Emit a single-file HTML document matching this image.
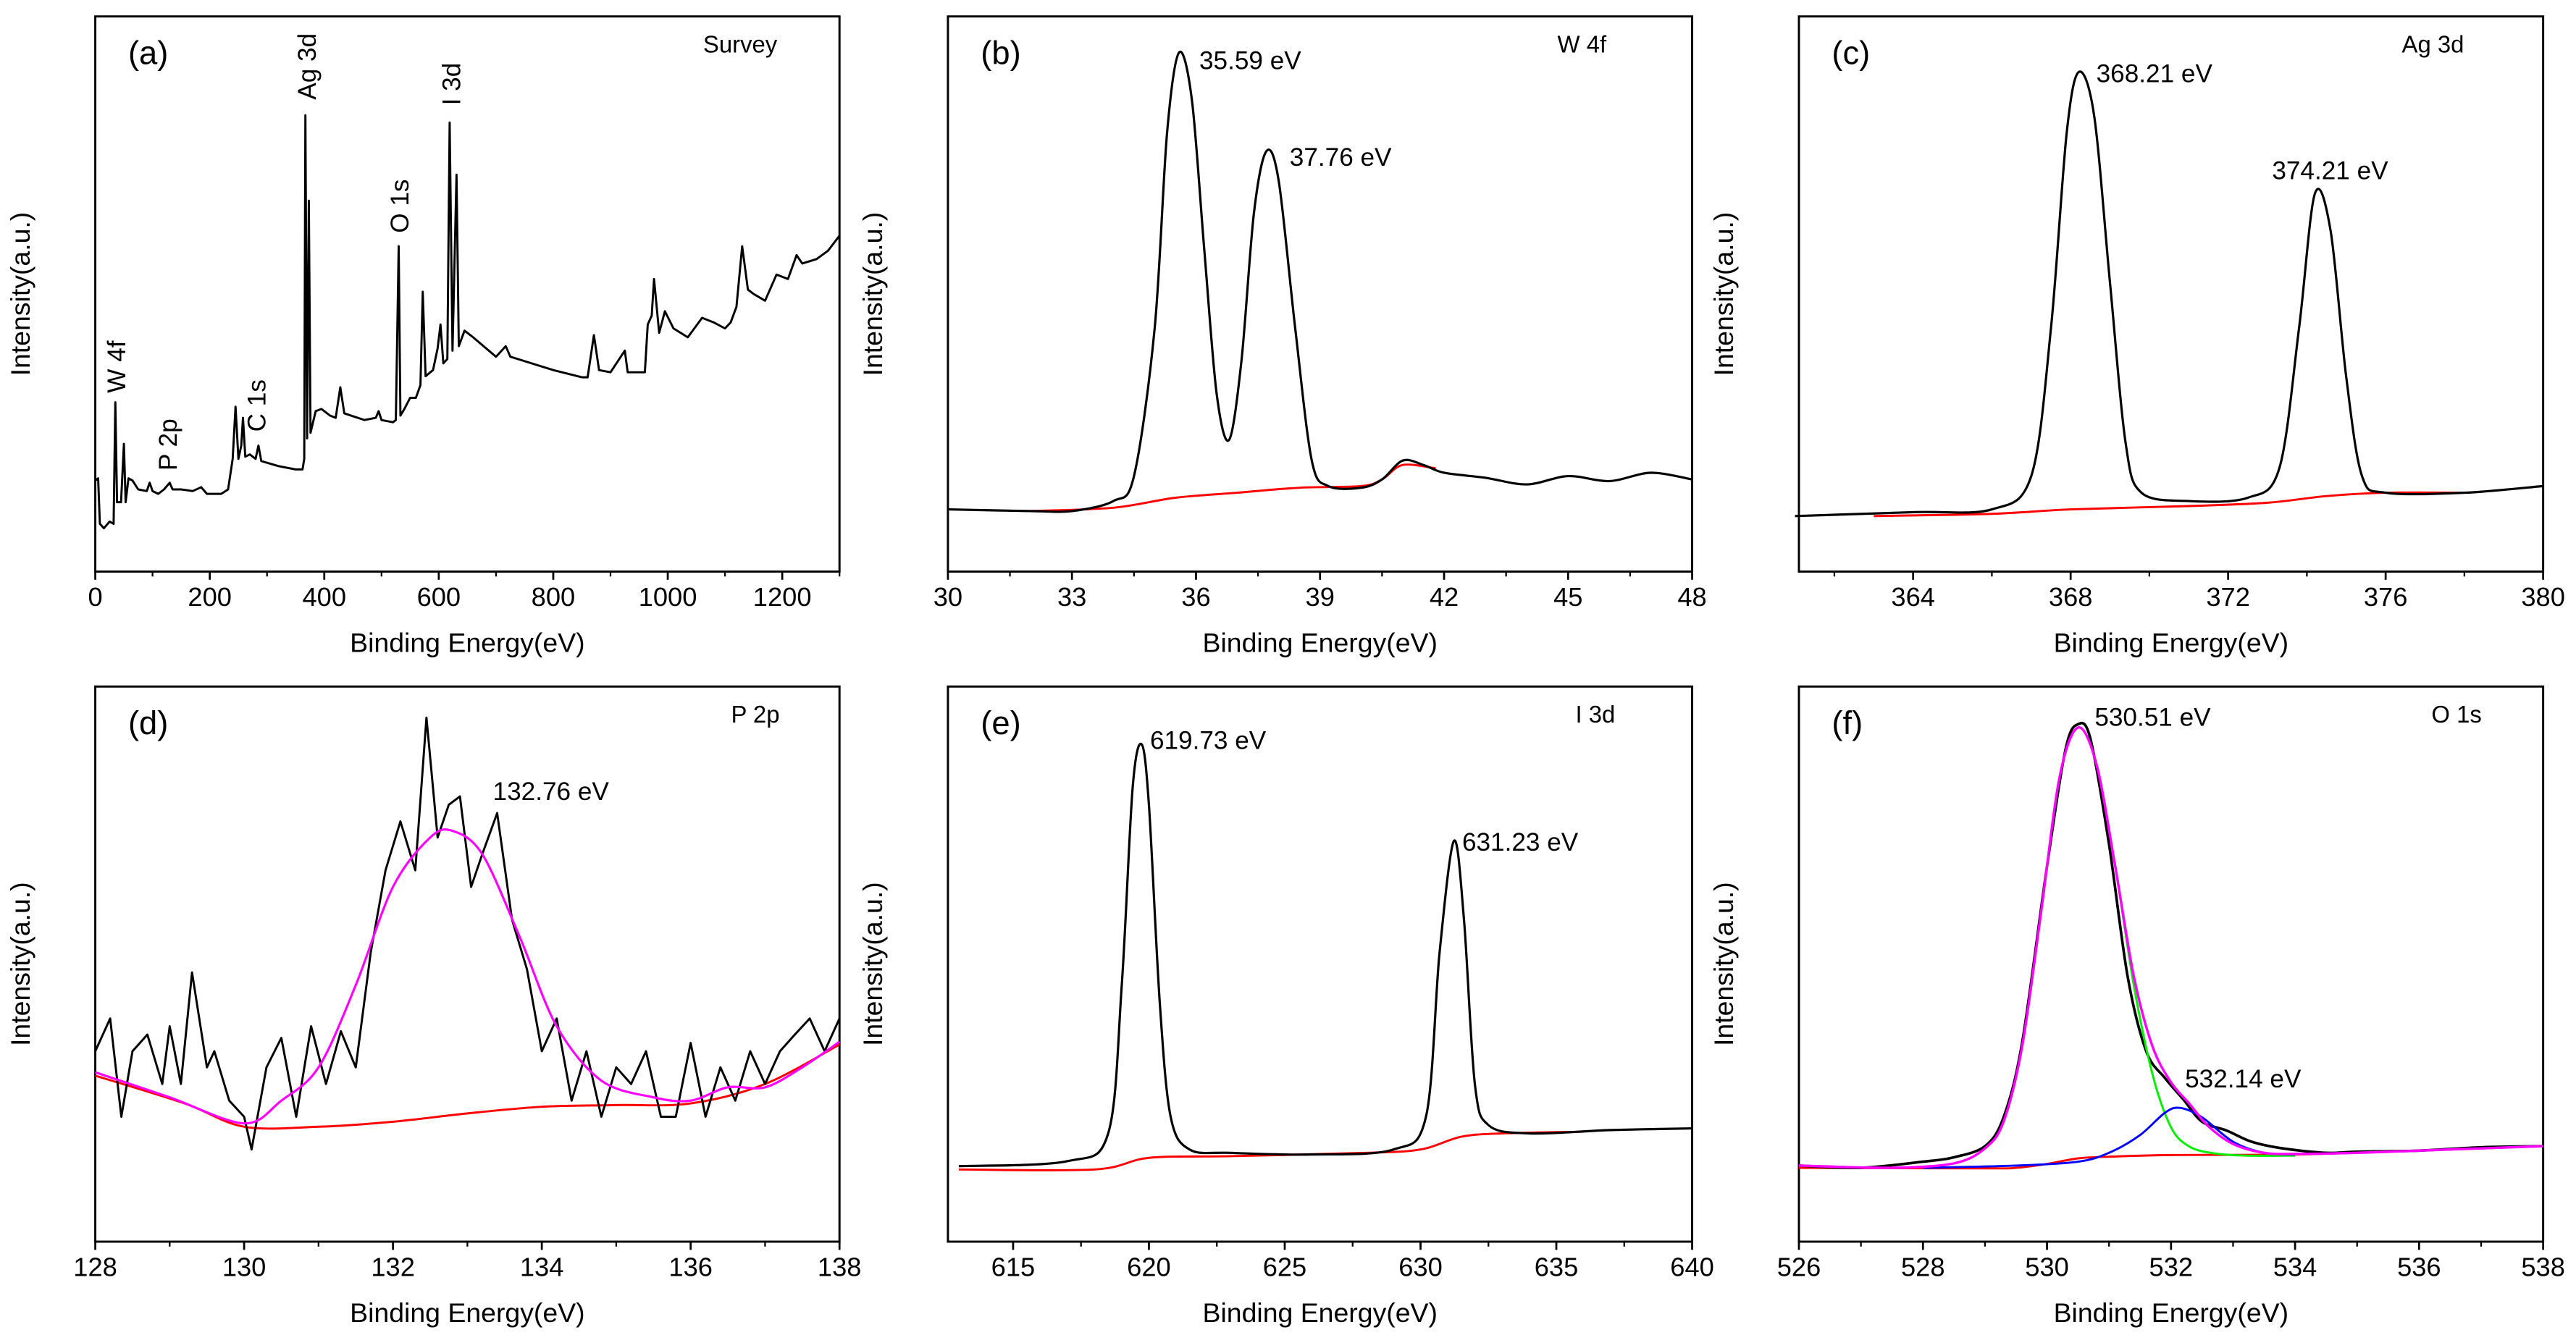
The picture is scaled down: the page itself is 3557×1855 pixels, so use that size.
<!DOCTYPE html>
<html><head><meta charset="utf-8"><style>
html,body{margin:0;padding:0;background:#fff}
svg{display:block}
text{font-family:"Liberation Sans",Arial,sans-serif;fill:#000}
</style></head><body>
<svg id="fig" width="3557" height="1855" viewBox="0 0 1568 817.7" xmlns="http://www.w3.org/2000/svg"></svg>
<script>
// ---- data (energy eV, intensity a.u. 0-100) ----
const aE=[0,5,8,15,25,32,35,38,45,50,53,58,65,75,90,95,100,110,120,130,135,150,170,185,195,220,232,240,245,250,255,258,262,270,280,285,290,320,350,362,365,367,370,373,376,385,395,410,420,428,435,470,490,495,500,520,525,530,533,540,550,560,568,572,577,590,598,603,608,615,619,624,631,635,645,660,700,717,725,750,800,850,860,871,880,900,925,930,960,965,972,976,985,995,1010,1035,1060,1080,1100,1110,1120,1130,1140,1150,1170,1190,1210,1225,1235,1260,1280,1300];
const aI=[16.4,16.8,8.6,7.8,9,8.6,30.5,12.5,12.5,23,12.5,16.8,16.4,14.8,14.5,16,14.5,14,14.8,16,14.8,14.8,14.5,15.2,14,14,14.8,20.3,29.7,20.3,22.7,27.7,20.7,21.1,20.3,22.7,19.9,19,18.4,18.4,20.3,82.2,24,66.8,25,28.9,29.3,28.1,27.7,33.2,28.5,27.3,27.7,28.9,27.3,26.9,27.3,58.6,28.1,29.3,31.3,31.3,33.6,50.4,35.2,36.3,40.2,44.5,37.5,38.3,80.9,39.8,71.5,40.6,43.4,42.2,38.7,40.6,38.7,37.9,36.3,35,35,42.6,36.3,35.9,39.8,35.9,35.9,44.5,46.1,52.7,43,46.9,43.8,42.2,45.7,44.9,43.8,44.9,47.7,58.6,50.8,50,48.8,53.5,52.7,57,55.5,56.3,57.8,60.5];

const bE=[30,32,33,34,34.5,35,35.3,35.59,35.9,36.2,36.5,36.8,37.1,37.4,37.7,38,38.4,38.8,39.2,40,40.5,41,41.5,42,43,44,45,46,47,48];
const bI=[11.2,10.9,10.9,12.7,17.2,43.8,79,93.5,85,58,32,23.7,38,64.5,75.7,70.4,43.8,20,15.4,15.1,16.6,20,19.2,17.8,16.9,15.7,17.2,16.3,17.8,16.6];
const bBgE=[32,34,35.5,37,38.5,40,40.5,41,41.8];
const bBgI=[10.9,11.5,13.3,14.2,15.1,15.4,16.6,19.2,18.6];

const cE=[361,364,366,367,367.5,367.9,368.21,368.6,369,369.4,369.8,371,372.5,373.3,373.8,374.2,374.6,375,375.4,376,378,380];
const cI=[10,10.7,11.2,17.2,43.8,79,90,82,52,23,14.2,12.7,13.3,18.6,43.8,68,61.5,35,17.2,14.2,14.2,15.4];
const cBgE=[363,366,368,371,373,374.5,376,378];
const cBgI=[10,10.4,11.2,11.8,12.4,13.6,14.2,14.2];

const dE=[128,128.2,128.35,128.5,128.7,128.9,129,129.15,129.3,129.5,129.6,129.8,130,130.1,130.3,130.5,130.7,130.9,131.1,131.3,131.5,131.7,131.9,132.1,132.3,132.45,132.6,132.75,132.9,133.05,133.2,133.4,133.6,133.8,134,134.2,134.4,134.6,134.8,135,135.2,135.4,135.6,135.8,136,136.2,136.4,136.6,136.8,137,137.2,137.4,137.6,137.8,138];
const dI=[34.3,40.2,22.5,34.3,37.3,28.4,38.8,28.4,48.5,31.4,34.3,25.4,22.5,16.6,31.4,36.7,22.5,38.8,28.4,37.9,31.4,52,66.9,75.7,66.9,94.4,72.8,78.7,80.2,63.9,69.8,77.2,58,49.1,34.3,40.2,25.4,34.3,22.5,31.4,28.4,34.3,22.5,22.5,35.8,22.5,31.4,25.4,34.3,28.4,34.3,37.3,40.2,34.3,40.2];
const dFitE=[128,129,130,130.5,131,131.5,132,132.5,132.8,133.2,133.7,134.2,134.8,135.5,136,136.5,137,137.5,138];
const dFitI=[30.5,26,21.3,25.4,31.4,46.2,63.9,72.8,74,69.8,55,38.8,29,26,25.4,27.8,27.8,31.4,36];
const dBgE=[128,129.2,130,131,132,133,134,135,136,137,138];
const dBgI=[29.9,24.9,20.7,20.7,21.6,23.1,24.3,24.6,24.9,28.4,35.5];

const eE=[613,617,618.5,619,619.4,619.73,620,620.4,620.8,621.5,623,626,629,630.2,630.7,631.23,631.6,632,632.5,634,637,640];
const eI=[13.6,14.5,19.5,46.2,81.7,89.6,78.7,43,22.5,16.6,16,15.7,16.6,22.5,52,72.2,58,28.4,21,19.5,20.1,20.4];
const eBgE=[613,618,620,623,628,630,631.5,633,636];
const eBgI=[13,13,15.1,15.4,16,16.6,18.9,19.5,19.8];

const fE=[526,527,528,528.5,529,529.3,529.6,530,530.3,530.5,530.7,531,531.3,531.6,531.9,532.2,532.5,532.9,533.3,533.8,534.5,535,536,537,538];
const fI=[13.7,13.3,14.4,15.2,17.2,22.4,35.9,67.6,88.7,93.2,90.6,71.6,47.8,34.3,29.5,25.6,21.6,20,18,16.8,16,16.2,16.4,17,17.2];
const fFitE=[526,527.5,528.5,529,529.3,529.6,529.9,530.2,530.5,530.8,531.1,531.4,531.7,532,532.3,532.6,533,533.5,534,535,536,537,538];
const fFitI=[13.7,13.3,14.1,16.8,21.6,35.2,58.9,83.5,92.6,85.9,67.6,47.8,35.2,28.7,24.8,20.8,17.6,16,15.8,16,16.4,16.8,17.2];
const fGreenE=[529.9,530.2,530.5,530.8,531.1,531.4,531.7,532,532.3,532.7,533.2,534];
const fGreenI=[58.9,83.5,92.6,85.9,67.6,46.2,30.2,20.6,17.1,15.9,15.5,15.5];
const fBlueE=[528,529.5,530.5,531,531.5,531.9,532.14,532.5,533,533.5,534];
const fBlueI=[13.3,13.7,14.4,16,19.2,23.2,24.1,22.4,18,16,15.7];
const fBgE=[526,529,529.5,530,530.5,531,532,534,536,538];
const fBgI=[13.3,13.2,13.3,14,15,15.3,15.6,15.7,16.4,17.2];

const NS='http://www.w3.org/2000/svg';
const svg=document.getElementById('fig');
function mk(tag,attrs,parent){const e=document.createElementNS(NS,tag);for(const k in attrs)e.setAttribute(k,attrs[k]);(parent||svg).appendChild(e);return e;}
function txt(x,y,s,size,parent,anchor,rot){const t=mk('text',{x:x,y:y,'font-size':size,'text-anchor':anchor||'start'},parent);if(rot)t.setAttribute('transform','rotate(-90 '+x+' '+y+')');t.textContent=s;return t;}

function panel(id,x0,y0,xmin,xmax,ticks,minorStep,letter,title,titleX){
  const W=453,H=338;
  const g=mk('g',{});
  
  
  const sx=v=>x0+(v-xmin)/(xmax-xmin)*W;
  const sy=v=>y0+H-v/100*H;
  const fr=mk('rect',{x:x0,y:y0,width:W,height:H,fill:'none',stroke:'#000','stroke-width':1.3},g);
  
  
  const first=Math.ceil(xmin/minorStep-1e-9)*minorStep;
  for(let v=first;v<=xmax+1e-9;v+=minorStep){
    const t=mk('line',{x1:sx(v),x2:sx(v),y1:y0+H,y2:y0+H+3,stroke:'#000','stroke-width':1},g);
    
    
  }
  ticks.forEach(v=>{
    const t=mk('line',{x1:sx(v),x2:sx(v),y1:y0+H,y2:y0+H+5,stroke:'#000','stroke-width':1.2},g);
    
    
    const l=txt(sx(v),y0+H+21,String(v),16,g,'middle');
    
    
  });
  const xt=txt(x0+W/2,y0+H+49,'Binding Energy(eV)',16.5,g,'middle');
  
  
  const yt=txt(x0-40,y0+H/2,'Intensity(a.u.)',16.5,g,'middle',true);
  
  
  const lt=txt(x0+20,y0+29,letter,20,g);
  
  
  const tt=txt(titleX,y0+22,title,14.5,g);
  
  
  return {g,sx,sy};
}
function line(p,E,I,color,name,w,smooth){
  const P=E.map((e,i)=>[p.sx(e),p.sy(I[i])]);
  let d='M'+P[0][0].toFixed(2)+' '+P[0][1].toFixed(2);
  for(let i=1;i<P.length;i++){
    if(smooth){
      const p0=P[Math.max(i-2,0)],p1=P[i-1],p2=P[i],p3=P[Math.min(i+1,P.length-1)];
      const t=0.16;
      const c1=[p1[0]+(p2[0]-p0[0])*t,p1[1]+(p2[1]-p0[1])*t];
      const c2=[p2[0]-(p3[0]-p1[0])*t,p2[1]-(p3[1]-p1[1])*t];
      d+=' C'+c1[0].toFixed(2)+' '+c1[1].toFixed(2)+' '+c2[0].toFixed(2)+' '+c2[1].toFixed(2)+' '+p2[0].toFixed(2)+' '+p2[1].toFixed(2);
    } else d+=' L'+P[i][0].toFixed(2)+' '+P[i][1].toFixed(2);
  }
  const path=mk('path',{d:d,fill:'none',stroke:color,'stroke-width':w||1.4,'stroke-linejoin':'round'},p.g);
  
  
}
function ann(p,x,y,s,name,rot){
  const t=txt(x,y,s,15.5,p.g,'start',rot);
  
  
}

const r1=10,r2=418;
const pa=panel('a',58,r1,0,1300,[0,200,400,600,800,1000,1200],100,'(a)','Survey',428);
line(pa,aE,aI,'#000','survey-spectrum',1.3,false);
ann(pa,pa.sx(35)+6,pa.sy(31)-4,'W 4f','label-w4f',true);
ann(pa,pa.sx(125)+6,pa.sy(17)-4,'P 2p','label-p2p',true);
ann(pa,pa.sx(280)+6,pa.sy(24)-4,'C 1s','label-c1s',true);
ann(pa,pa.sx(368)+6,pa.sy(85),'Ag 3d','label-ag3d',true);
ann(pa,pa.sx(530)+6,pa.sy(61),'O 1s','label-o1s',true);
ann(pa,pa.sx(620)+6,pa.sy(84),'I 3d','label-i3d',true);

const pb=panel('b',577,r1,30,48,[30,33,36,39,42,45,48],1.5,'(b)','W 4f',948);
line(pb,bBgE,bBgI,'#f00','background-w4f',1.3,true);
line(pb,bE,bI,'#000','spectrum-w4f',1.4,true);
ann(pb,730,42,'35.59 eV','peak-label-3559');
ann(pb,785,101,'37.76 eV','peak-label-3776');

const pc=panel('c',1095,r1,361.1,380,[364,368,372,376,380],2,'(c)','Ag 3d',1462);
line(pc,cBgE,cBgI,'#f00','background-ag3d',1.3,true);
line(pc,cE,cI,'#000','spectrum-ag3d',1.4,true);
ann(pc,1276,50,'368.21 eV','peak-label-36821');
ann(pc,1383,109,'374.21 eV','peak-label-37421');

const pd=panel('d',58,r2,128,138,[128,130,132,134,136,138],1,'(d)','P 2p',445);
line(pd,dBgE,dBgI,'#f00','background-p2p',1.3,true);
line(pd,dE,dI,'#000','spectrum-p2p',1.3,false);
line(pd,dFitE,dFitI,'#f0f','fit-p2p',1.4,true);
ann(pd,300,487,'132.76 eV','peak-label-13276');

const pe=panel('e',577,r2,612.6,640,[615,620,625,630,635,640],2.5,'(e)','I 3d',959);
line(pe,eBgE,eBgI,'#f00','background-i3d',1.3,true);
line(pe,eE,eI,'#000','spectrum-i3d',1.4,true);
ann(pe,700,456,'619.73 eV','peak-label-61973');
ann(pe,890,518,'631.23 eV','peak-label-63123');

const pf=panel('f',1095,r2,526,538,[526,528,530,532,534,536,538],1,'(f)','O 1s',1480);
line(pf,fBgE,fBgI,'#f00','background-o1s',1.3,true);
line(pf,fE,fI,'#000','spectrum-o1s',1.6,true);
line(pf,fGreenE,fGreenI,'#0e0','fit-component-53051',1.3,true);
line(pf,fBlueE,fBlueI,'#00f','fit-component-53214',1.3,true);
line(pf,fFitE,fFitI,'#f0f','fit-envelope-o1s',1.5,true);
ann(pf,1275,442,'530.51 eV','peak-label-53051');
ann(pf,1330,662,'532.14 eV','peak-label-53214');
</script>
</body></html>
